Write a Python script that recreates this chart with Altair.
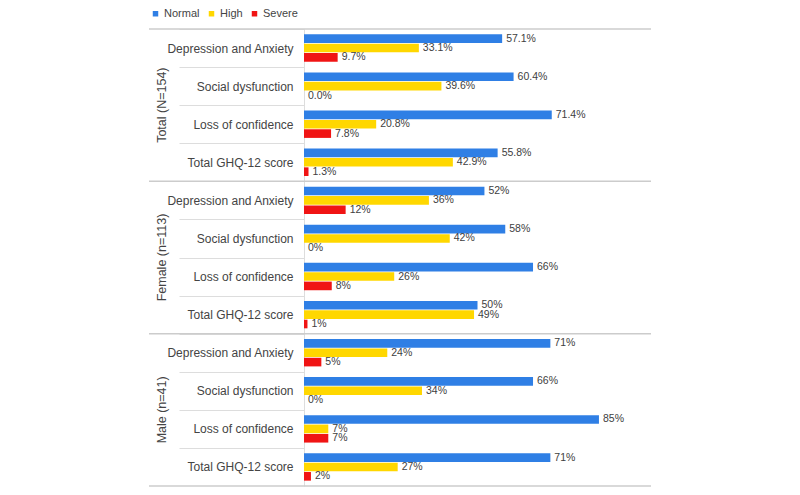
import altair as alt
import pandas as pd

groups = ["Total (N=154)", "Female (n=113)", "Male (n=41)"]
categories = ["Depression and Anxiety", "Social dysfunction", "Loss of confidence", "Total GHQ-12  score"]
series = ["Normal", "High", "Severe"]
colors = ["#2f7fe5", "#ffd700", "#f01414"]

total_normal = [57.1, 60.4, 71.4, 55.8]
total_high = [33.1, 39.6, 20.8, 42.9]
total_severe = [9.7, 0.0, 7.8, 1.3]

female_normal = [52, 58, 66, 50]
female_high = [36, 42, 26, 49]
female_severe = [12, 0, 8, 1]

male_normal = [71, 66, 85, 71]
male_high = [24, 34, 7, 27]
male_severe = [5, 0, 7, 2]

decimals = [1, 0, 0]

group_values = [
    [total_normal, total_high, total_severe],
    [female_normal, female_high, female_severe],
    [male_normal, male_high, male_severe],
]

keys = [f"{g}|{c}" for g in groups for c in categories]

rows = []
for g, vals, d in zip(groups, group_values, decimals):
    for s, arr in zip(series, vals):
        for c, v in zip(categories, arr):
            rows.append(dict(group=g, category=c, key=f"{g}|{c}", series=s,
                             value=v, label=f"{v:.{d}f}%"))
df = pd.DataFrame(rows)

title_df = pd.DataFrame([dict(group=g, key=f"{g}|{categories[1]}") for g in groups])
top_lines = pd.DataFrame([dict(key=f"{g}|{categories[0]}") for g in groups])
bottom_line = pd.DataFrame([dict(key=f"{groups[-1]}|{categories[-1]}")])

W, H = 347, 457
band = H / len(keys)

y_axis = alt.Axis(
    title=None,
    labelExpr="split(datum.label, '|')[1]",
    labelFontSize=12,
    labelColor="#444444",
    labelPadding=-114,
    labelOffset=band / 2,
    tickOffset=-band / 2,
    tickSize=125,
    tickColor="#dddddd",
    domainColor="#dddddd",
    grid=False,
)
y_scale = alt.Scale(paddingInner=0, paddingOuter=0)
x_enc = alt.X("value:Q", scale=alt.Scale(domain=[0, 100]), axis=None)
y_off = alt.YOffset("series:N", sort=series,
                    scale=alt.Scale(paddingInner=0.08, paddingOuter=0.57))

bars = alt.Chart(df).mark_bar().encode(
    x=x_enc,
    y=alt.Y("key:N", sort=keys, scale=y_scale, axis=y_axis),
    yOffset=y_off,
    color=alt.Color("series:N", sort=series,
                    scale=alt.Scale(domain=series, range=colors),
                    legend=alt.Legend(orient="none", legendX=-154, legendY=-21,
                                      direction="horizontal", title=None,
                                      symbolType="square", symbolSize=30,
                                      symbolStrokeWidth=0, labelFontSize=11,
                                      labelColor="#444444", columnPadding=6,
                                      labelOffset=3)),
)

labels = alt.Chart(df).mark_text(align="left", baseline="middle", dx=4,
                                 fontSize=10.5, color="#404040").encode(
    x=x_enc,
    y=alt.Y("key:N", sort=keys, scale=y_scale, axis=y_axis),
    yOffset=y_off,
    text="label:N",
)

group_titles = alt.Chart(title_df).mark_text(angle=270, fontSize=12.5,
                                             color="#444444", baseline="middle",
                                             align="center").encode(
    x=alt.value(-142),
    y=alt.Y("key:N", sort=keys, scale=y_scale, axis=y_axis, bandPosition=1),
    text="group:N",
)

sep_top = alt.Chart(top_lines).mark_rule(color="#cccccc", strokeWidth=1.5).encode(
    x=alt.value(-155), x2=alt.value(W),
    y=alt.Y("key:N", sort=keys, scale=y_scale, axis=y_axis, bandPosition=0),
)
sep_bottom = alt.Chart(bottom_line).mark_rule(color="#cccccc", strokeWidth=1.5).encode(
    x=alt.value(-155), x2=alt.value(W),
    y=alt.Y("key:N", sort=keys, scale=y_scale, axis=y_axis, bandPosition=1),
)

chart = alt.layer(bars, labels, group_titles, sep_top, sep_bottom).properties(
    width=W, height=H,
    autosize=alt.AutoSizeParams(type="none"),
    padding={"left": 296, "top": 21, "right": 141, "bottom": 1},
).configure(font="Liberation Sans").configure_view(stroke=None)

chart.save("out.html", embed_options={"renderer": "svg", "actions": False})
